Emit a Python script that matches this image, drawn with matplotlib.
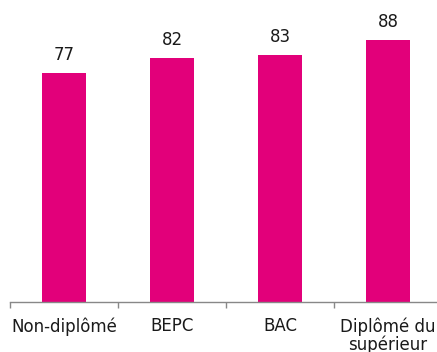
import matplotlib
matplotlib.use("Agg")
import matplotlib.pyplot as plt

plt.rcParams["font.family"] = ["DejaVu Sans"]

categories = ["Non-diplômé", "BEPC", "BAC", "Diplômé du\nsupérieur"]
values = [77, 82, 83, 88]

bar_color = "#E2007A"

fig = plt.figure(figsize=(4.37, 3.52), dpi=100)
ax = fig.add_axes([10/437, 50/352, 432/437, 298/352])

x = list(range(len(categories)))
bars = ax.bar(x, values, width=0.4, color=bar_color)
for xi, v in zip(x, values):
    ax.annotate(str(v), (xi, v), xytext=(0, 6), textcoords="offset points",
                ha="center", va="bottom", fontsize=12, color="#1a1a1a")

ax.set_xlim(-0.5, len(categories) - 0.5)
ax.set_ylim(0, 100)
ax.set_xticks([i - 0.5 for i in range(len(categories) + 1)])
ax.set_xticklabels([])
ax.set_xticks(x, minor=True)
ax.set_xticklabels(categories, minor=True, fontsize=12, color="#1a1a1a",
                   linespacing=0.95)
ax.tick_params(axis="x", which="major", length=4, color="#888888", width=1)
ax.tick_params(axis="x", which="minor", length=0, pad=11)
ax.set_yticks([])
for s in ["top", "right", "left"]:
    ax.spines[s].set_visible(False)
ax.spines["bottom"].set_color("#888888")
ax.spines["bottom"].set_linewidth(1)

fig.savefig("out.png", dpi=100)
